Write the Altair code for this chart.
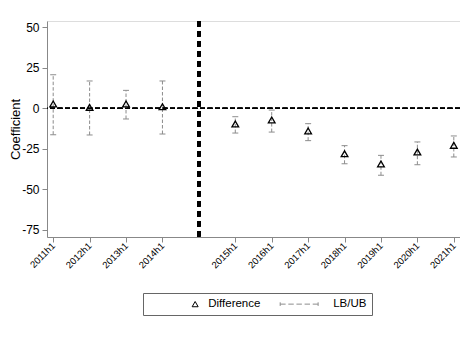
import altair as alt
import pandas as pd

periods = ["2011h1", "2012h1", "2013h1", "2014h1", "2015h1", "2016h1",
           "2017h1", "2018h1", "2019h1", "2020h1", "2021h1"]
difference = [2.7, 0.6, 2.7, 1.0, -9.7, -7.2, -14.0, -28.1, -34.4, -27.0, -22.9]
lower = [-16.3, -16.5, -6.6, -15.9, -15.3, -14.7, -20.0, -34.3, -41.4, -34.9, -30.1]
upper = [20.8, 16.9, 11.1, 16.9, -5.2, -1.1, -9.5, -23.1, -29.1, -20.8, -17.1]
gap_label = " "
x_domain = periods[:4] + [gap_label] + periods[4:]
y_ticks = [-75, -50, -25, 0, 25, 50]
y_domain = [-79.6, 54.0]
legend_items = ["Difference", "LB/UB"]

df = pd.DataFrame({"period": periods, "diff": difference, "lb": lower,
                   "ub": upper, "series": ["Difference"] * len(periods)})

FONT = "Liberation Sans"
GRAY = "#8c8c8c"

# legend symbols (unit coordinates, drawn to the right of the symbol anchor)
tri_path = "M13.8,-0.87L12.8,0.87L14.8,0.87Z"
dash_path = ("M0.48,-0.6L0.48,0.6"
             "M0.48,0L2.29,0M3.19,0L5.0,0M5.9,0L7.71,0M8.61,0L10.42,0M11.32,0L13.12,0"
             "M13.12,-0.6L13.12,0.6")

xs = alt.Scale(domain=x_domain, type="point", padding=0.17)
ys = alt.Scale(domain=y_domain, nice=False, zero=False)

x_axis = alt.Axis(values=periods, labelAngle=-45, title=None, labelFontSize=9.5,
                  labelAlign="right", labelBaseline="middle", labelPadding=2,
                  tickSize=5, grid=False)
y_axis = alt.Axis(values=y_ticks, title="Coefficient", labelFontSize=12,
                  labelExpr="'' + datum.value", tickSize=5, labelPadding=3,
                  titleFontSize=13, titleFontWeight="normal", titleX=-25, grid=False)

X = alt.X("period:N", scale=xs, axis=x_axis)

legend = alt.Legend(title=None,
                    orient="none", legendX=96, legendY=272, direction="horizontal",
                    columns=2, columnPadding=12, labelOffset=48.7, symbolSize=36,
                    symbolStrokeWidth=1, strokeColor="#666", padding=5,
                    labelFont=FONT, labelFontSize=11.5, labelColor="black")

base = alt.Chart(df)

ci = base.mark_rule(color=GRAY, strokeDash=[3.5, 2], strokeWidth=1).encode(
    x=X, y=alt.Y("lb:Q", scale=ys, axis=y_axis), y2="ub:Q")
cap_lo = base.mark_tick(color=GRAY, orient="horizontal", size=6, thickness=1, opacity=1).encode(
    x=X, y=alt.Y("lb:Q", scale=ys, axis=y_axis))
cap_hi = base.mark_tick(color=GRAY, orient="horizontal", size=6, thickness=1, opacity=1).encode(
    x=X, y=alt.Y("ub:Q", scale=ys, axis=y_axis))

zero = alt.Chart(df).mark_rule(color="black", strokeDash=[5, 2.5], strokeWidth=1).encode(
    y=alt.YDatum(0, scale=ys, axis=y_axis))
vline = alt.Chart(df).mark_rule(color="black", strokeDash=[5.5, 4.5], strokeWidth=3).encode(
    x=alt.XDatum(gap_label, type="nominal", scale=xs, axis=x_axis))

# invisible layer that only carries the legend
pts_legend = base.mark_point(filled=False, size=45, strokeWidth=1.3, opacity=0).encode(
    x=X, y=alt.Y("diff:Q", scale=ys, axis=y_axis),
    shape=alt.Shape("series:N", scale=alt.Scale(domain=legend_items,
                                                range=[tri_path, dash_path]), legend=legend),
    color=alt.Color("series:N", scale=alt.Scale(domain=legend_items,
                                                range=["black", GRAY]), legend=legend))
# visible triangles
pts_draw = base.mark_point(filled=False, size=45, strokeWidth=1.3, opacity=1,
                           shape="triangle-up", color="black").encode(
    x=X, y=alt.Y("diff:Q", scale=ys, axis=y_axis))

chart = alt.layer(zero, vline, ci, cap_lo, cap_hi, pts_legend, pts_draw).properties(
    width=413, height=216,
    padding={"left": 39, "top": 13, "right": 0, "bottom": 95},
    autosize=alt.AutoSizeParams(type="none"),
).configure_view(stroke="#777", strokeWidth=1).configure_axis(
    labelFont=FONT, titleFont=FONT, labelColor="black", titleColor="black",
    domainColor="#444", tickColor="#444", domainWidth=1
).configure_legend(symbolOpacity=1).configure(background="white")

chart.save("out.html", embed_options={"renderer": "svg", "actions": False})
